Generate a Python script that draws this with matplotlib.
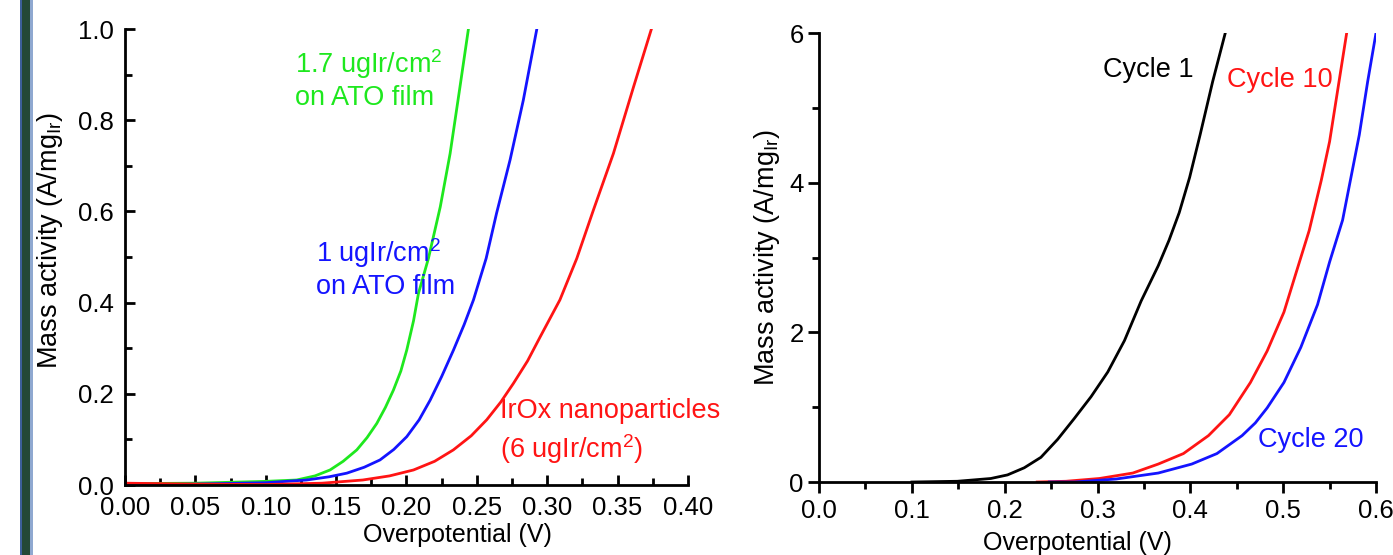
import matplotlib
matplotlib.use("Agg")
import matplotlib.pyplot as plt
from matplotlib.patches import Rectangle
from matplotlib.ticker import MultipleLocator

plt.rcParams["font.family"] = ["Liberation Sans", "DejaVu Sans"]
plt.rcParams["mathtext.default"] = "regular"

# left panel: mass activity vs overpotential for three loadings
green_x = [0.0, 0.05, 0.10, 0.122, 0.135, 0.1457, 0.155, 0.1647, 0.172, 0.1789, 0.185, 0.1907,
           0.196, 0.2002, 0.205, 0.2085, 0.2156, 0.224, 0.231, 0.238, 0.244]
green_y = [0.003, 0.004, 0.008, 0.011, 0.02, 0.033, 0.052, 0.077, 0.104, 0.135, 0.17, 0.208,
           0.25, 0.296, 0.36, 0.420, 0.497, 0.610, 0.727, 0.873, 1.0]
blue_x = [0.0, 0.05, 0.10, 0.129, 0.145, 0.1576, 0.170, 0.1812, 0.191, 0.2002, 0.209, 0.2168,
          0.225, 0.2334, 0.241, 0.2476, 0.2566, 0.264, 0.2736, 0.283, 0.2926]
blue_y = [0.0, 0.002, 0.005, 0.011, 0.018, 0.026, 0.039, 0.055, 0.078, 0.106, 0.143, 0.186,
          0.238, 0.296, 0.352, 0.406, 0.497, 0.596, 0.713, 0.844, 1.0]
red_x = [0.0, 0.05, 0.10, 0.14, 0.169, 0.188, 0.205, 0.220, 0.2333, 0.246, 0.257, 0.267, 0.276,
         0.286, 0.295, 0.309, 0.321, 0.3328, 0.347, 0.3613, 0.374]
red_y = [0.004, 0.002, 0.001, 0.004, 0.011, 0.02, 0.033, 0.052, 0.077, 0.108, 0.143, 0.182, 0.223,
         0.272, 0.325, 0.406, 0.497, 0.603, 0.727, 0.873, 1.0]

# right panel: cycling
c1_x = [0.10, 0.149, 0.185, 0.203, 0.221, 0.239, 0.257, 0.275, 0.293, 0.311, 0.329, 0.347, 0.3654,
        0.377, 0.388, 0.3992, 0.4105, 0.424, 0.4376]
c1_y = [0.0, 0.01, 0.047, 0.095, 0.19, 0.33, 0.57, 0.85, 1.14, 1.47, 1.89, 2.42, 2.89,
        3.23, 3.60, 4.07, 4.64, 5.35, 6.0]
c10_x = [0.235, 0.266, 0.302, 0.338, 0.3654, 0.3925, 0.4195, 0.442, 0.4647, 0.4827, 0.5008,
         0.514, 0.528, 0.541, 0.550, 0.559, 0.5684]
c10_y = [0.0, 0.01, 0.047, 0.12, 0.24, 0.38, 0.62, 0.90, 1.33, 1.75, 2.27,
         2.80, 3.36, 4.03, 4.55, 5.26, 6.0]
c20_x = [0.248, 0.275, 0.320, 0.3654, 0.4015, 0.4286, 0.4557, 0.470, 0.4827, 0.5008, 0.519,
         0.537, 0.550, 0.564, 0.573, 0.582, 0.591, 0.600]
c20_y = [0.0, 0.0, 0.04, 0.12, 0.24, 0.38, 0.62, 0.79, 0.99, 1.33, 1.80,
         2.37, 2.94, 3.50, 4.07, 4.64, 5.35, 6.0]

GREEN = "#1ee81e"
BLUE = "#1414ff"
RED = "#ff1414"
TICK_FS = 18.5
LABEL_FS = 18
YLABEL_FS = 19.5
NOTE_FS = 19.5

fig = plt.figure(figsize=(13.93, 5.55), dpi=100)

# dark frame strip on the left edge
fig.patches.append(Rectangle((20 / 1393, 0), 12 / 1393, 1, transform=fig.transFigure,
                             facecolor="#244836", edgecolor="none"))
fig.patches.append(Rectangle((20 / 1393, 0), 2 / 1393, 1, transform=fig.transFigure,
                             facecolor="#3d5f9a", edgecolor="none"))
fig.patches.append(Rectangle((30 / 1393, 0), 2.5 / 1393, 1, transform=fig.transFigure,
                             facecolor="#8fa8d0", edgecolor="none"))

ax1 = fig.add_axes([0.0897, 0.1261, 0.4042, 0.8216])
ax2 = fig.add_axes([0.588, 0.1315, 0.3998, 0.809])

for ax in (ax1, ax2):
    for side in ("top", "right"):
        ax.spines[side].set_visible(False)
    for side in ("left", "bottom"):
        ax.spines[side].set_linewidth(2.0)

ax1.plot(green_x, green_y, color=GREEN, lw=2.0)
ax1.plot(blue_x, blue_y, color=BLUE, lw=2.0)
ax1.plot(red_x, red_y, color=RED, lw=2.0)
ax1.set_xlim(0, 0.40)
ax1.set_ylim(0, 1.0)
ax1.xaxis.set_major_locator(MultipleLocator(0.05))
ax1.xaxis.set_minor_locator(MultipleLocator(0.025))
ax1.yaxis.set_major_locator(MultipleLocator(0.2))
ax1.yaxis.set_minor_locator(MultipleLocator(0.1))
ax1.xaxis.set_major_formatter(lambda v, p: f"{v:.2f}")
ax1.yaxis.set_major_formatter(lambda v, p: f"{v:.1f}")
ax1.tick_params(which="major", direction="in", length=7, width=2, labelsize=TICK_FS)
ax1.tick_params(which="minor", direction="in", length=5, width=2)
ax1.tick_params(axis="x", which="major", pad=8)
ax1.tick_params(axis="y", which="major", pad=8)
ax1.set_xlabel("Overpotential (V)", fontsize=LABEL_FS)
ax1.set_ylabel("Mass activity (A/mg$_{Ir}$)", fontsize=YLABEL_FS)
ax1.xaxis.set_label_coords(0.59, -0.083)
ax1.yaxis.set_label_coords(-0.106, 0.537)

ax1.text(0.121, 0.89, "1.7 ugIr/cm$^2$\non ATO film", color=GREEN, fontsize=NOTE_FS,
         va="center", ha="left", linespacing=1.2)
ax1.text(0.136, 0.476, "1 ugIr/cm$^2$\non ATO film", color=BLUE, fontsize=NOTE_FS,
         va="center", ha="left", linespacing=1.2)
ax1.text(0.2665, 0.116, "IrOx nanoparticles\n(6 ugIr/cm$^2$)", color=RED, fontsize=NOTE_FS,
         va="center", ha="left", linespacing=1.3)

ax2.plot(c1_x, c1_y, color="black", lw=2.0)
ax2.plot(c10_x, c10_y, color=RED, lw=2.0)
ax2.plot(c20_x, c20_y, color=BLUE, lw=2.0)
ax2.set_xlim(0, 0.6)
ax2.set_ylim(0, 6)
ax2.xaxis.set_major_locator(MultipleLocator(0.1))
ax2.xaxis.set_minor_locator(MultipleLocator(0.05))
ax2.yaxis.set_major_locator(MultipleLocator(2))
ax2.yaxis.set_minor_locator(MultipleLocator(1))
ax2.xaxis.set_major_formatter(lambda v, p: f"{v:.1f}")
ax2.yaxis.set_major_formatter(lambda v, p: f"{v:.0f}")
ax2.tick_params(which="major", direction="out", length=8, width=2, labelsize=TICK_FS)
ax2.tick_params(which="minor", direction="out", length=5, width=2)
ax2.tick_params(axis="x", which="major", pad=4)
ax2.tick_params(axis="y", which="major", pad=3)
ax2.set_xlabel("Overpotential (V)", fontsize=LABEL_FS)
ax2.set_ylabel("Mass activity (A/mg$_{Ir}$)", fontsize=YLABEL_FS)
ax2.xaxis.set_label_coords(0.463, -0.109)
ax2.yaxis.set_label_coords(-0.066, 0.50)

ax2.text(0.3057, 5.51, "Cycle 1", color="black", fontsize=NOTE_FS, va="center", ha="left")
ax2.text(0.440, 5.37, "Cycle 10", color=RED, fontsize=NOTE_FS, va="center", ha="left")
ax2.text(0.4726, 0.56, "Cycle 20", color=BLUE, fontsize=NOTE_FS, va="center", ha="left")

fig.savefig("out.png", dpi=100)
